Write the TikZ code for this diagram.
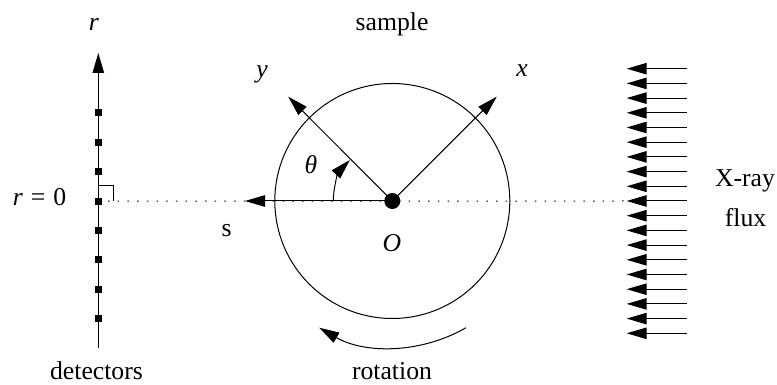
\documentclass[tikz,border=0pt]{standalone}
\usepackage{fontspec}
\setmainfont{Liberation Serif}
\usetikzlibrary{arrows.meta}
\begin{document}
\begin{tikzpicture}[x=1pt, y=1pt, line width=1pt, >={Triangle[length=20pt, width=11.5pt]},
    lbl/.style={inner sep=0pt, anchor=base, font=\fontsize{25.7}{30}\selectfont},
    detector/.style={rectangle, fill=black, inner sep=0pt, minimum size=7pt}]
    \useasboundingbox (0,0) rectangle (777,385);

    \coordinate (rbase) at (98.3,37);
    \coordinate (rtip) at (98.3,332);
    \coordinate (xtip) at (496.7,288.3);
    \coordinate (ytip) at (288.3,288.3);
    \coordinate (stip) at (245,184);
    \coordinate (fluxend) at (626.7,184);

    % sample
    \node[circle, draw, inner sep=0pt, minimum size=235pt] (sample) at (392.3,184) {};
    \node[circle, fill=black, inner sep=0pt, minimum size=16pt] (O) at (392.3,184) {};

    % detectors
    \foreach \i in {1,...,8}
        \node[detector] (d\i) at (98.3,301.4-29.4*\i) {};
    \draw[dash pattern=on 1.5pt off 8.2pt] (d4.center) -- (fluxend);
    \draw[->] (rbase) -- (rtip);
    \coordinate (perpa) at (113,199);
    \draw (98.3,199) -- (perpa) -- (perpa |- d4);

    % axes
    \draw[->] (O.center) -- (xtip);
    \draw[->] (O.center) -- (ytip);
    \draw[->] (O.center) -- (stip);
    \draw[->] (333.3,184) arc[start angle=180, end angle=136, radius=59];
    \draw[->] (466,57.3) arc[start angle=-60, end angle=-120, radius=146.8];

    % flux
    \foreach \i in {0,...,18} {
        \coordinate (ftail\i) at (686.7,316.3-14.7*\i);
        \coordinate (fhead\i) at (626.7,316.3-14.7*\i);
        \draw[->] (ftail\i) -- (fhead\i);
    }

    \node[lbl] (rlabel) at (94,354) {\textit{r}};
    \node[lbl] (samplelabel) at (392,354) {sample};
    \node[lbl] (ylabel) at (262,307) {\textit{y}};
    \node[lbl] (xlabel) at (522,308) {\textit{x}};
    \node[lbl] (thetalabel) at (311,211) {\textit{θ}};
    \node[lbl] (rzero) at (39.5,179) {\textit{r}\hspace{1.5pt} = \hspace{1.5pt}0};
    \node[lbl] (slabel) at (226.7,148) {s};
    \node[lbl] (Olabel) at (392,133) {\textit{O}};
    \node[lbl] (detlabel) at (96.5,5) {detectors};
    \node[lbl] (rotlabel) at (392,5) {rotation};
    \node[lbl] (xray) at (745,198) {X-ray};
    \node[lbl] (flux) at (745.5,158) {flux};
\end{tikzpicture}
\end{document}
